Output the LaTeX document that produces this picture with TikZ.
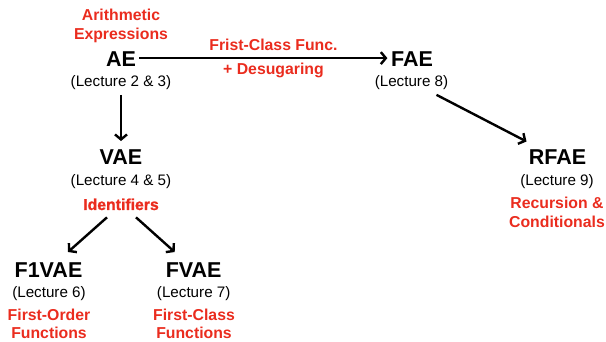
\documentclass[tikz,border=0pt]{standalone}
\usepackage{fontspec}
\setmainfont{Liberation Sans}
\newfontfamily\heavyfont[FakeBold=1.2]{Liberation Sans}
\usetikzlibrary{arrows.meta}
\definecolor{hred}{RGB}{234,44,30}
\tikzset{
  title/.style={anchor=base, inner sep=0pt, font=\fontsize{21.5}{24}\selectfont\bfseries},
  lect/.style={anchor=base, inner sep=0pt, font=\fontsize{15.2}{18}\selectfont},
  redlab/.style={anchor=base, inner sep=0pt, text=hred, align=center, font=\fontsize{15.8}{19.3}\selectfont\bfseries},
  arr/.style={line width=2.4pt, -{Straight Barb[length=5pt,width=12pt,line width=2.4pt]}}
}
\begin{document}
\begin{tikzpicture}[x=1pt,y=-1pt]
\useasboundingbox (0,0) rectangle (606,342);
% AE
\node[redlab] (arith) at (121,20.5) {Arithmetic};
\node[redlab] (expr) at (121,39.5) {Expressions};
\node[title] (AE) at (121,66.5) {AE};
\node[lect] (l23) at (121,86.5) {(Lecture 2 \& 3)};
% FAE
\node[title] (FAE) at (412,66.5) {FAE};
\node[lect] (l8) at (411.5,86.5) {(Lecture 8)};
\node[redlab] (fcf) at (273.5,51) {Frist-Class Func.};
\node[redlab] (desug) at (273.5,74.5) {+ Desugaring};
% RFAE
\node[title] (RFAE) at (557.5,165) {RFAE};
\node[lect] (l9) at (557,185.5) {(Lecture 9)};
\node[redlab] (rec) at (557,209) {Recursion \&};
\node[redlab] (cond) at (557,228) {Conditionals};
% VAE
\node[title] (VAE) at (121,165) {VAE};
\node[lect] (l45) at (121,186) {(Lecture 4 \& 5)};
\node[anchor=base, inner sep=0pt, text=hred, font=\fontsize{15.8}{18}\selectfont\heavyfont\bfseries] (ident) at (121,210) {Identifiers};
% F1VAE
\node[title] (F1VAE) at (48.5,278) {F1VAE};
\node[lect] (l6) at (49,297.5) {(Lecture 6)};
\node[redlab] (fo) at (49,320.5) {First-Order};
\node[redlab] (fn1) at (49,338.5) {Functions};
% FVAE
\node[title] (FVAE) at (193.7,278) {FVAE};
\node[lect] (l7) at (193.7,297.5) {(Lecture 7)};
\node[redlab] (fc) at (194,320.5) {First-Class};
\node[redlab] (fn2) at (194,338.5) {Functions};
% arrows
\draw[arr] ([xshift=3pt,yshift=1pt]AE.east) -- ([xshift=-3.5pt,yshift=1pt]FAE.west);
\draw[arr] ([yshift=-5pt]l23.south) -- ([yshift=9pt]VAE.north);
\draw[arr] ([xshift=25pt,yshift=-5pt]l8.south) -- ([xshift=-31pt,yshift=8.5pt]RFAE.north);
\draw[arr] ([xshift=-14pt,yshift=-7pt]ident.south) -- ([xshift=19.5pt,yshift=11pt]F1VAE.north);
\draw[arr] ([xshift=15pt,yshift=-7pt]ident.south) -- ([xshift=-19pt,yshift=11pt]FVAE.north);
\end{tikzpicture}
\end{document}
